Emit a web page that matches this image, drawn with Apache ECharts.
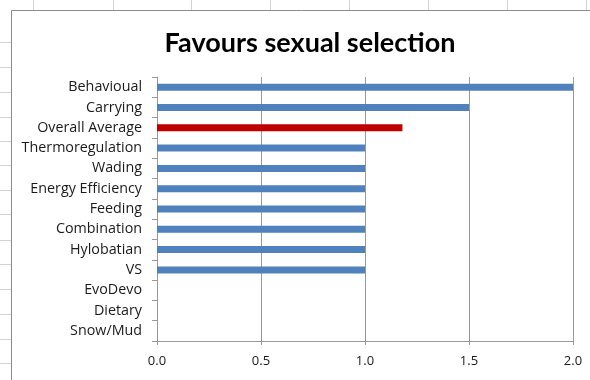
<!DOCTYPE html>
<html>
<head>
<meta charset="utf-8">
<script src="https://cdn.jsdelivr.net/npm/echarts@6/dist/echarts.min.js"></script>
<style>
  html, body { margin: 0; padding: 0; background: #fff; }
  #chart { width: 590px; height: 380px; }
</style>
</head>
<body>
<div id="chart"></div>
<script>
// Explanations scored by how strongly they favour sexual selection
const categories = [
  'Behavioual', 'Carrying', 'Overall Average', 'Thermoregulation', 'Wading',
  'Energy Efficiency', 'Feeding', 'Combination', 'Hylobatian', 'VS',
  'EvoDevo', 'Dietary', 'Snow/Mud'
];
const scores = [2, 1.5, 1.18, 1, 1, 1, 1, 1, 1, 1, 0, 0, 0];
const highlighted = 'Overall Average';
const xTicks = [0, 0.5, 1, 1.5, 2];

const blue = '#4F81BD';
const red = '#C00000';

// Worksheet grid peeking out around the chart frame
const sheetLines = [];
const colXs = [33, 113, 191, 270, 349, 428, 507, 586];
colXs.forEach(x => sheetLines.push({
  type: 'line', silent: true,
  shape: { x1: x + 0.5, y1: 0, x2: x + 0.5, y2: 10 },
  style: { stroke: '#d4d4d4', lineWidth: 1 }
}));
const rowYs = [42, 67, 92, 117, 141, 165, 190, 214, 240, 264, 289, 314, 339, 363];
rowYs.forEach(y => sheetLines.push({
  type: 'line', silent: true,
  shape: { x1: 0, y1: y + 0.5, x2: 11, y2: y + 0.5 },
  style: { stroke: '#d4d4d4', lineWidth: 1 }
}));
// chart frame
sheetLines.push({
  type: 'polyline', silent: true,
  shape: { points: [[11.5, 400], [11.5, 10.5], [600, 10.5]] },
  style: { stroke: '#8c8c8c', lineWidth: 1, fill: null }
});

const chart = echarts.init(document.getElementById('chart'), null, { renderer: 'canvas' });
chart.setOption({
  animation: false,
  backgroundColor: '#fff',
  graphic: sheetLines,
  title: {
    text: 'Favours sexual selection',
    left: 305,
    textAlign: 'center',
    top: 25,
    textStyle: {
      fontFamily: 'Lato',
      fontWeight: 'bold',
      fontSize: 27,
      color: '#000'
    }
  },
  grid: { left: 157, right: 17, top: 77, bottom: 39, containLabel: false },
  xAxis: {
    type: 'value',
    min: 0,
    max: 2,
    interval: 0.5,
    axisLine: { show: true, lineStyle: { color: '#999', width: 1 } },
    axisTick: { show: true, length: 4, lineStyle: { color: '#999' } },
    splitLine: { show: true, lineStyle: { color: '#999', width: 1 } },
    axisLabel: {
      formatter: v => xTicks.includes(v) ? v.toFixed(1) : '',
      fontFamily: 'Open Sans',
      fontSize: 13,
      color: '#1a1a1a',
      margin: 14
    }
  },
  yAxis: {
    type: 'category',
    data: categories,
    inverse: true,
    axisLine: { show: true, lineStyle: { color: '#999', width: 1 } },
    axisTick: { show: true, length: 5, lineStyle: { color: '#999' } },
    axisLabel: {
      fontFamily: 'Open Sans',
      fontSize: 14.3,
      color: '#1a1a1a',
      margin: 15
    },
    splitLine: { show: false }
  },
  series: [{
    type: 'bar',
    barWidth: 7,
    data: scores.map((v, i) => ({
      value: v,
      itemStyle: { color: categories[i] === highlighted ? red : blue }
    }))
  }]
});
</script>
</body>
</html>
